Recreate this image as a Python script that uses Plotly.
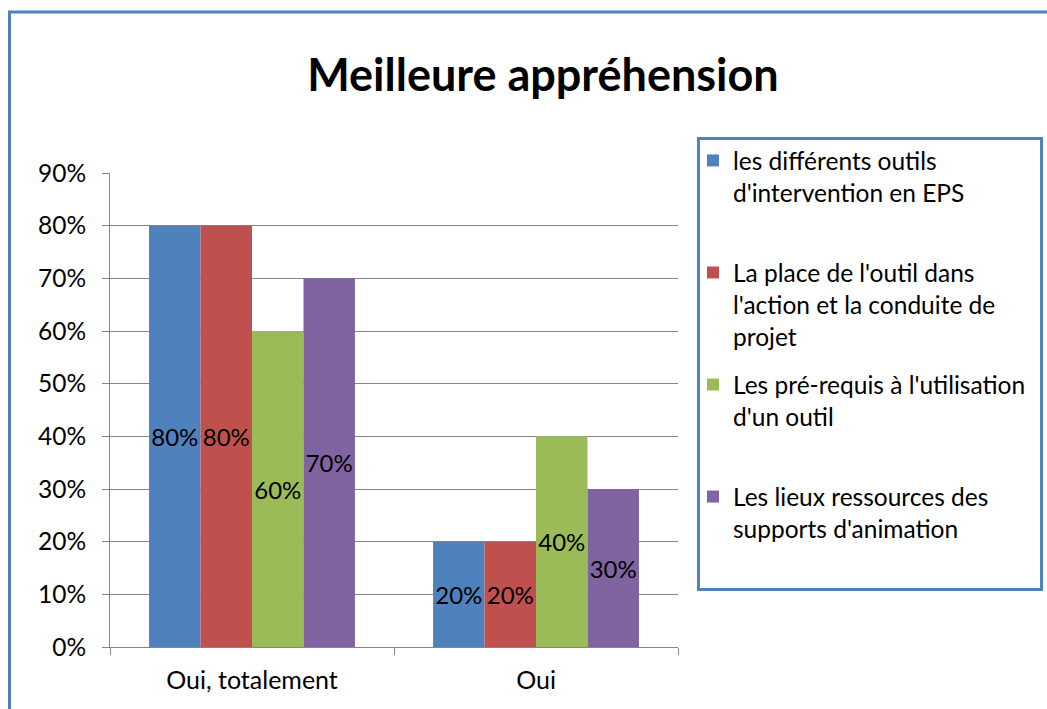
import plotly.graph_objects as go

categories = ["Oui, totalement", "Oui"]
series_names = [
    "les différents outils<br>d'intervention en EPS",
    "La place de l'outil dans<br>l'action et la conduite de<br>projet",
    "Les pré-requis à l'utilisation<br>d'un outil",
    "Les lieux ressources des<br>supports d'animation",
]
outils = [0.80, 0.20]
place = [0.80, 0.20]
prerequis = [0.60, 0.40]
lieux = [0.70, 0.30]
series_values = [outils, place, prerequis, lieux]
colors = ["#4F81BD", "#C0504D", "#9BBB59", "#8064A2"]
y_ticks = [0, 0.1, 0.2, 0.3, 0.4, 0.5, 0.6, 0.7, 0.8, 0.9]

W, H = 1047, 709
L, R, T, B = 110, 678, 173, 647  # plot area in pixels
pw, ph = R - L, B - T

def px(x):
    return (x - L) / pw

def py(y):
    return (B - y) / ph

FONT = "Lato"
FS = 24.5
SLOT_LINES = 3  # each legend entry occupies the same number of text lines

fig = go.Figure()
for name, vals, col in zip(series_names, series_values, colors):
    pad = "<br>" * (SLOT_LINES - 1 - name.count("<br>"))
    fig.add_trace(go.Bar(
        x=categories, y=vals, name=name + pad, legendgroup=name,
        marker=dict(color=col, line=dict(width=0)),
        texttemplate="%{y:.0%}", textposition="inside",
        insidetextanchor="middle", textangle=0,
        textfont=dict(family=FONT, size=24, color="black"),
        constraintext="none",
    ))

fig.update_layout(
    width=W, height=H,
    margin=dict(l=L, r=W - R, t=T, b=H - B, pad=0),
    paper_bgcolor="white", plot_bgcolor="white",
    barmode="group", bargap=0.275, bargroupgap=0,
    font=dict(family=FONT, size=FS, color="black"),
    title=dict(text="<b>Meilleure appréhension</b>", x=543 / W, xref="container",
               xanchor="center", y=1 - 75 / H, yanchor="middle",
               font=dict(family=FONT, size=45, color="black")),
    showlegend=True,
    legend=dict(x=px(693), xanchor="left", y=py(138), yanchor="top",
                bgcolor="rgba(0,0,0,0)", borderwidth=0,
                traceorder="grouped", tracegroupgap=13.5, valign="top",
                maxheight=650,
                font=dict(family=FONT, size=FS, color="black"),
                itemclick=False),
    xaxis=dict(showline=True, linecolor="#868686", linewidth=1,
               ticks="outside", tickson="boundaries", ticklen=7,
               tickcolor="#868686", showgrid=False, ticklabelstandoff=11,
               automargin=False,
               tickfont=dict(family=FONT, size=25, color="black")),
    yaxis=dict(range=[0, 0.9], tickvals=y_ticks, tickformat=".0%",
               showline=True, linecolor="#868686", linewidth=1,
               ticks="outside", ticklen=7, tickcolor="#868686",
               showgrid=True, gridcolor="#868686", gridwidth=1,
               zeroline=False, ticklabelstandoff=11, automargin=False,
               tickfont=dict(family=FONT, size=FS, color="black")),
    shapes=[
        dict(type="rect", xref="paper", yref="paper",
             x0=px(9.5), x1=px(1070), y0=py(730), y1=py(12),
             line=dict(color="#4F81BD", width=3), fillcolor="rgba(0,0,0,0)"),
        dict(type="rect", xref="paper", yref="paper",
             x0=px(698.5), x1=px(1041.5), y0=py(589.5), y1=py(138.5),
             line=dict(color="#4F81BD", width=3), fillcolor="rgba(0,0,0,0)"),
    ],
)

fig.write_html(
    "out.html",
    config={"displayModeBar": False},
    post_script=(
        "document.body.style.margin='0';"
        "document.body.style.overflow='hidden';"
        "document.documentElement.style.overflow='hidden';"
    ),
)
